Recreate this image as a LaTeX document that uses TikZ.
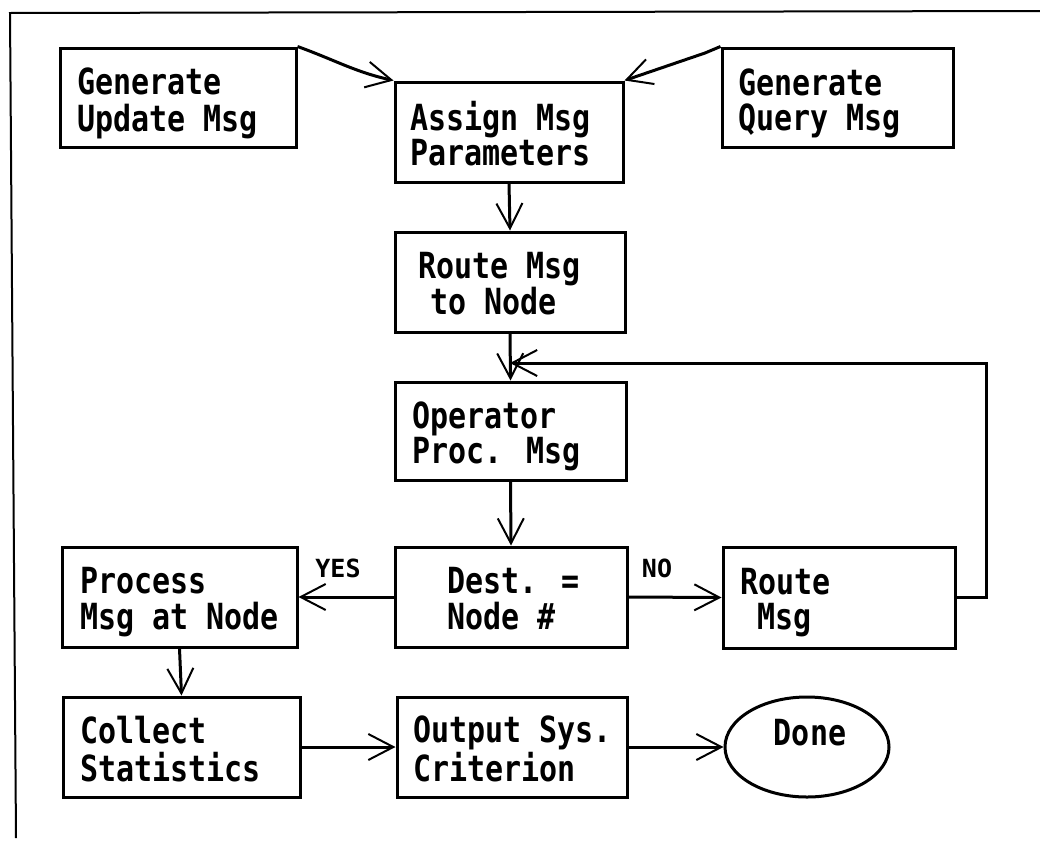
\documentclass[tikz,border=0pt]{standalone}
\usepackage{fontspec}
\usetikzlibrary{arrows.meta,shapes.geometric}
\newfontfamily\dm{DejaVu Sans Mono}
\newcommand{\ml}[1]{\scalebox{1}[1.2]{\begin{tabular}{@{}l@{}}#1\end{tabular}}}
\begin{document}
\begin{tikzpicture}[x=1pt,y=-1pt,
  box/.style={draw, line width=3pt, inner sep=0pt, rectangle},
  txt/.style={font=\dm\bfseries\fontsize{30}{25}\selectfont, inner sep=0pt, anchor=west},
  small/.style={font=\dm\bfseries\fontsize{25}{25}\selectfont, inner sep=0pt},
  conn/.style={line width=3pt},
  arr/.style={-{Straight Barb[length=25pt,width=26pt,line width=2pt]}}]
\useasboundingbox (0,0) rectangle (1040,841);
% frame
\draw[line width=2pt] (1040,11) -- (10,13) -- (16,838);
% boxes
\node[box, minimum width=236, minimum height=99] (upd) at (178,97.5) {};
\node[box, minimum width=228, minimum height=100] (asg) at (509,132) {};
\node[box, minimum width=231, minimum height=99] (qry) at (837.5,97.5) {};
\node[box, minimum width=230, minimum height=100] (rte) at (510,282) {};
\node[box, minimum width=231, minimum height=98] (opr) at (510.5,431) {};
\node[box, minimum width=232, minimum height=100] (dst) at (511,597) {};
\node[box, minimum width=235, minimum height=100] (prc) at (179.5,597) {};
\node[box, minimum width=232, minimum height=101] (rtm) at (839,597.5) {};
\node[box, minimum width=237, minimum height=100] (col) at (181.5,747) {};
\node[box, minimum width=230, minimum height=100] (out) at (512,747) {};
\node[draw, line width=3pt, ellipse, minimum width=164, minimum height=100, inner sep=0pt] (done) at (807,747) {};
% texts
\node[txt] (t-upd) at (77,104) {\ml{Generate\\Update Msg}};
\node[txt] (t-asg) at (410,138) {\ml{Assign Msg\\Parameters}};
\node[txt] (t-qry) at (738,104) {\ml{Generate\\Query Msg}};
\node[txt] (t-rte) at (418,288) {\ml{Route Msg\\\hspace{12pt}to Node}};
\node[txt] (t-opr) at (412,437) {\ml{Operator\\Proc. Msg}};
\node[txt] (t-dst) at (447,603) {\ml{Dest. =\\Node \#}};
\node[txt] (t-prc) at (80,603) {\ml{Process\\Msg at Node}};
\node[txt] (t-rtm) at (740,603) {\ml{Route\\\hspace{17pt}Msg}};
\node[txt] (t-col) at (80,753) {\ml{Collect\\Statistics}};
\node[txt] (t-out) at (413,753) {\ml{Output Sys.\\Criterion}};
\node[txt, anchor=center] (t-done) at (810,737) {\ml{Done}};
\node[small] (yes) at (338,568) {YES};
\node[small] (no) at (657,568) {NO};
% connectors
\coordinate (jn) at (510,363);
\draw[conn,arr] (upd.north east) .. controls (335,60) and (355,72) .. (asg.north west);
\draw[conn,arr] (qry.north west) -- (705,53) -- (asg.north east);
\draw[conn,arr] (asg.south) -- (rte.north);
\draw[conn,arr] (rte.south) -- (opr.north);
\draw[conn,arr] (opr.south) -- (dst.north);
\draw[conn,arr] (dst.west) -- (prc.east);
\draw[conn,arr] (dst.east) -- (rtm.west);
\draw[conn,arr] (rtm.east) -- ++(30,0) |- (jn);
\draw[conn,arr] (prc.south) -- (col.north);
\draw[conn,arr] (col.east) -- (out.west);
\draw[conn,arr] (out.east) -- (done.west);
\end{tikzpicture}
\end{document}
